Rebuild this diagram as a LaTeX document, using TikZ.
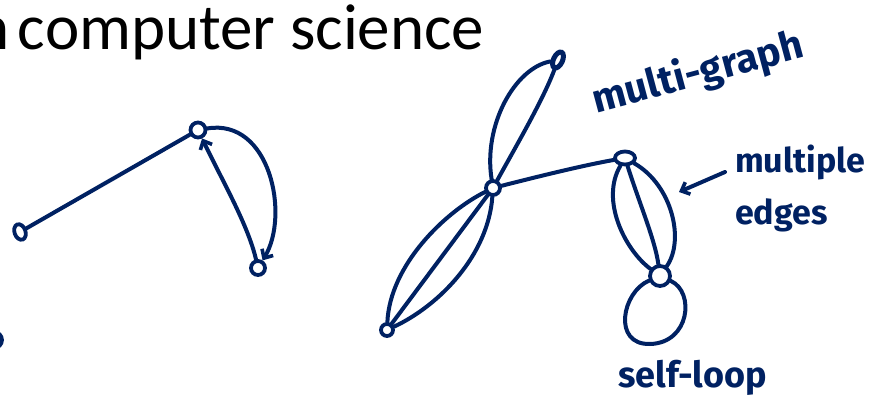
\documentclass[tikz,border=0pt]{standalone}
\usepackage{fontspec}
\setmainfont{Carlito}
\newfontfamily\hand{Fira Sans}
\usetikzlibrary{arrows.meta,shapes.geometric}
\definecolor{ink}{RGB}{0,33,98}
\begin{document}
\begin{tikzpicture}[x=1pt,y=-1pt,
  inkline/.style={draw=ink,line width=4pt,line cap=round,line join=round},
  barb/.style={-{Straight Barb[length=7pt,width=13pt,line width=3.6pt]}},
  vtx/.style={circle,draw=ink,line width=3.8pt,inner sep=0pt},
  hw/.style={text=ink,inner sep=0pt,font=\hand\bfseries\fontsize{#1}{#1}\selectfont},
]
\useasboundingbox (0,0) rectangle (872,403);

% title
\node[anchor=base west,inner sep=0pt,font=\fontsize{65}{78}\selectfont] (title) at (-25,50) {n\kern-6pt\ computer science};

% left graph
\node[vtx,ellipse,minimum width=11pt,minimum height=16pt,rotate=20] (A) at (20,232) {};
\node[vtx,minimum size=15pt] (B) at (198,130) {};
\node[vtx,minimum size=14pt] (C) at (258,268) {};
\node[vtx,minimum size=16pt] (Z) at (-6,340) {};

\draw[inkline] (A) -- (B);
\draw[inkline,barb] (C) .. controls (248,225) and (222,180) .. (B);
\draw[inkline,barb] (B) .. controls (270,118) and (290,215) .. (C);

% right graph
\node[vtx,minimum size=14pt] (D) at (493,188) {};
\node[vtx,ellipse,line width=5pt,minimum width=9pt,minimum height=17pt,rotate=-25] (E) at (558,60) {};
\node[vtx,minimum size=12pt] (F) at (387,330) {};
\node[vtx,ellipse,minimum width=20pt,minimum height=13pt] (G) at (625,158) {};
\node[vtx,minimum size=20pt] (H) at (660,276) {};

\draw[inkline] (D) .. controls (483,125) and (515,68) .. (E);
\draw[inkline] (D) .. controls (515,148) and (543,100) .. (E);

\draw[inkline] (D) .. controls (445,212) and (390,265) .. (F);
\draw[inkline] (D) -- (F);
\draw[inkline] (D) .. controls (488,255) and (440,305) .. (F);

\draw[inkline] (D) .. controls (540,176) and (585,165) .. (G);

\draw[inkline] (G) .. controls (600,200) and (625,250) .. (H);
\draw[inkline] (G) .. controls (640,205) and (655,240) .. (H);
\draw[inkline] (G) .. controls (672,185) and (685,240) .. (H);

\draw[inkline] (H) .. controls (622,292) and (612,345) .. (650,344)
               .. controls (690,343) and (695,292) .. (H);

% labels
\node[hw=40,rotate=15,anchor=base] (lmg) at (701,85) {multi-graph};
\node[hw=34,anchor=base west] (lme1) at (735,173) {multiple};
\node[hw=34,anchor=base west] (lme2) at (735,225) {edges};
\node[hw=36,anchor=base west] (lsl) at (618,387) {self-loop};

\coordinate (metail) at (725,172);
\coordinate (mehead) at (679,192);
\draw[inkline,barb] (metail) -- (mehead);
\end{tikzpicture}
\end{document}
